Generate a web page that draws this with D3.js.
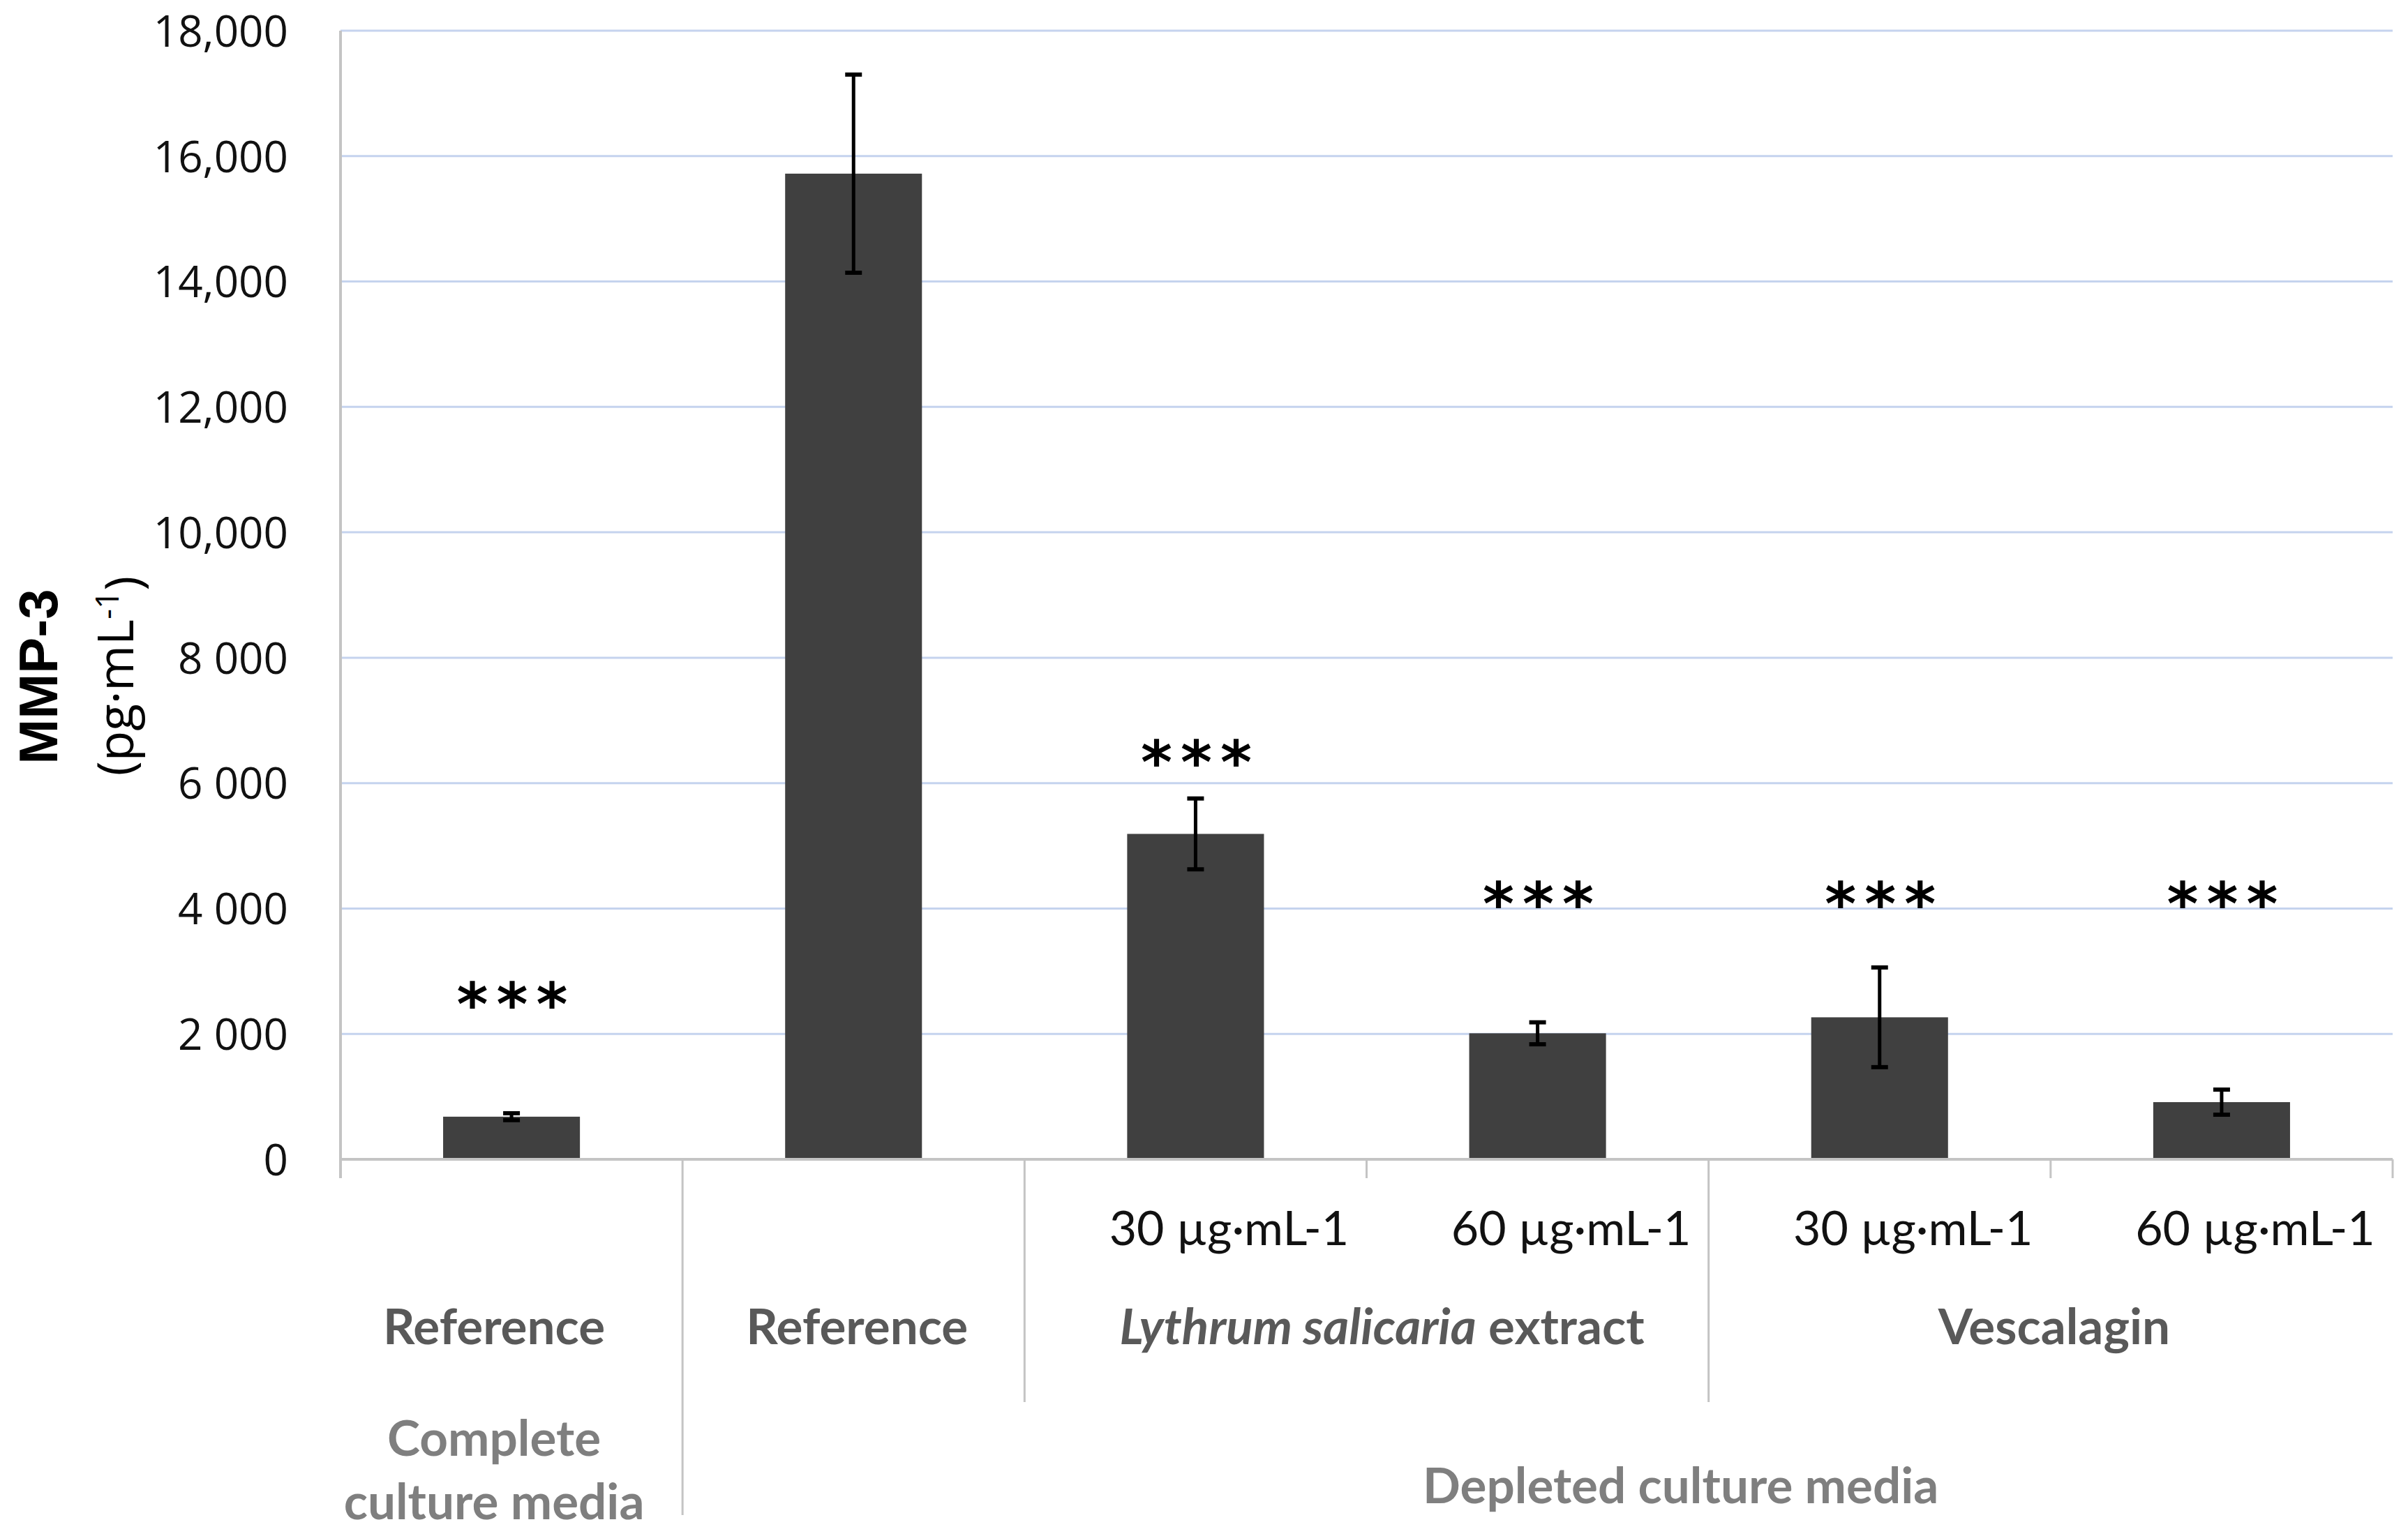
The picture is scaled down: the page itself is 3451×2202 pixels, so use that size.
<!DOCTYPE html>
<meta charset="utf-8">
<style>
  body { margin: 0; background: #fff; }
</style>
<script src="https://d3js.org/d3.v7.min.js"></script>
<div id="viz"></div>
<script>

// ---- data ----
var meanValues  = [680, 15720, 5190, 2010, 2265, 912];
var errorValues = [55, 1580, 565, 175, 795, 200];
// level at which the "***" marks sit (null = no mark)
var starLevels  = [2650, null, 6510, 4250, 4250, 4250];

var doseLabels = ["", "", "30 µg·mL-1", "60 µg·mL-1", "30 µg·mL-1", "60 µg·mL-1"];
var treatmentGroups = [
  {label: "Reference", from: 0, to: 0},
  {label: "Reference", from: 1, to: 1},
  {label: "Lythrum salicaria extract", from: 2, to: 3},
  {label: "Vescalagin", from: 4, to: 5}
];
var mediaGroups = [
  {label: ["Complete", "culture media"], from: 0, to: 0},
  {label: ["Depleted culture media"], from: 1, to: 5}
];

var yTickValues = [0, 2000, 4000, 6000, 8000, 10000, 12000, 14000, 16000, 18000];
var yTickLabels = ["0", "2 000", "4 000", "6 000", "8 000", "10,000", "12,000", "14,000", "16,000", "18,000"];

// ---- layout ----
var W = 3451, H = 2202;
var margin = {top: 44, right: 22, bottom: 540, left: 488};

var svg = d3.select("#viz")
  .append("svg")
    .attr("width", W)
    .attr("height", H);

var x = d3.scaleBand()
  .domain(d3.range(meanValues.length))
  .range([margin.left, W - margin.right])
  .padding(0);

var y = d3.scaleLinear()
  .domain([0, 18000])
  .range([H - margin.bottom, margin.top]);

var bw = x.bandwidth();
var barW = bw * 0.4;
var y0 = y(0);

// gridlines
svg.append("g")
  .selectAll("line")
  .data(yTickValues.filter(function (d) { return d > 0; }))
  .enter()
  .append("line")
    .attr("x1", margin.left)
    .attr("x2", W - margin.right)
    .attr("y1", function (d) { return y(d); })
    .attr("y2", function (d) { return y(d); })
    .attr("stroke", "#c5d3ee")
    .attr("stroke-width", 3);

// y axis
var yAxis = svg.append("g")
  .attr("transform", "translate(" + margin.left + ",0)")
  .call(d3.axisLeft(y)
    .tickValues(yTickValues)
    .tickFormat(function (d, i) { return yTickLabels[i]; })
    .tickSize(0)
    .tickPadding(75));
yAxis.select(".domain").remove();
yAxis.selectAll("text")
  .attr("dy", "0.36em")
  .style("font-family", "'Open Sans', sans-serif")
  .style("font-size", "62px")
  .attr("fill", "#111");

svg.append("line")
  .attr("x1", margin.left).attr("x2", margin.left)
  .attr("y1", y(18000)).attr("y2", y0 + 27)
  .attr("stroke", "#c4c4c4")
  .attr("stroke-width", 4);

// y title
svg.append("g")
  .attr("transform", "translate(55,970) rotate(-90)")
  .append("text")
  .attr("text-anchor", "middle")
  .attr("dy", "0.35em")
  .style("font-family", "'Liberation Sans', Arial, sans-serif")
  .style("font-weight", "bold")
  .style("font-size", "78px")
  .text("MMP-3");
var units = svg.append("g")
  .attr("transform", "translate(166,969) rotate(-90)")
  .append("text")
  .attr("text-anchor", "middle")
  .attr("dy", "0.35em")
  .style("font-family", "'Open Sans', sans-serif")
  .style("font-size", "71px");
units.append("tspan").text("(pg·mL");
units.append("tspan").attr("dy", "-0.45em").style("font-size", "46px").text("-1");
units.append("tspan").attr("dy", "0.45em").text(")");

// bars
svg.append("g")
  .selectAll("rect")
  .data(meanValues)
  .enter()
  .append("rect")
    .attr("x", function (d, i) { return x(i) + (bw - barW) / 2; })
    .attr("y", function (d) { return y(d); })
    .attr("width", barW)
    .attr("height", function (d) { return y0 - y(d); })
    .attr("fill", "#404040");

// error bars
var err = svg.append("g")
  .selectAll("g")
  .data(meanValues)
  .enter()
  .append("g")
  .attr("stroke", "#000");
err.append("line")
  .attr("x1", function (d, i) { return x(i) + bw / 2; })
  .attr("x2", function (d, i) { return x(i) + bw / 2; })
  .attr("y1", function (d, i) { return y(d + errorValues[i]); })
  .attr("y2", function (d, i) { return y(d - errorValues[i]); })
  .attr("stroke-width", 5);
[1, -1].forEach(function (s) {
  err.append("line")
    .attr("x1", function (d, i) { return x(i) + bw / 2 - 12; })
    .attr("x2", function (d, i) { return x(i) + bw / 2 + 12; })
    .attr("y1", function (d, i) { return y(d + s * errorValues[i]); })
    .attr("y2", function (d, i) { return y(d + s * errorValues[i]); })
    .attr("stroke-width", 6);
});

// significance marks
svg.append("g")
  .selectAll("text")
  .data(starLevels.map(function (v, i) { return {v: v, i: i}; }).filter(function (d) { return d.v !== null; }))
  .enter()
  .append("text")
    .attr("x", function (d) { return x(d.i) + bw / 2 + 7; })
    .attr("y", function (d) { return y(d.v); })
    .attr("dy", "0.54em")
    .attr("text-anchor", "middle")
    .style("font-family", "'DejaVu Sans', sans-serif")
    .style("font-weight", "bold")
    .style("font-size", "86px")
    .style("letter-spacing", "12px")
    .text("***");

// x axis baseline
svg.append("line")
  .attr("x1", margin.left).attr("x2", W - margin.right)
  .attr("y1", y0).attr("y2", y0)
  .attr("stroke", "#c4c4c4")
  .attr("stroke-width", 4);

// category separators: depth depends on which grouping level changes
var sepDepth = {short: y0 + 27, mid: 2010, long: 2172};
var boundaries = d3.range(1, meanValues.length + 1).map(function (b) {
  var level = "short";
  if (b < meanValues.length) {
    if (treatmentGroups.some(function (g) { return g.from === b; })) level = "mid";
    if (mediaGroups.some(function (g) { return g.from === b; })) level = "long";
  }
  return {b: b, level: level};
});
svg.append("g")
  .selectAll("line")
  .data(boundaries)
  .enter()
  .append("line")
    .attr("x1", function (d) { return d.b < meanValues.length ? x(d.b) : x(d.b - 1) + bw; })
    .attr("x2", function (d) { return d.b < meanValues.length ? x(d.b) : x(d.b - 1) + bw; })
    .attr("y1", y0)
    .attr("y2", function (d) { return sepDepth[d.level]; })
    .attr("stroke", "#c4c4c4")
    .attr("stroke-width", 3);

function spanCenter(g) { return (x(g.from) + x(g.to) + bw) / 2; }

// level 1: doses
svg.append("g")
  .selectAll("text")
  .data(doseLabels)
  .enter()
  .append("text")
    .attr("x", function (d, i) { return x(i) + bw / 2 + 48; })
    .attr("y", 1785)
    .attr("text-anchor", "middle")
    .style("font-family", "Lato, sans-serif")
    .style("font-size", "68px")
    .attr("fill", "#111")
    .text(function (d) { return d; });

// level 2: treatments
var treat = svg.append("g")
  .selectAll("text")
  .data(treatmentGroups)
  .enter()
  .append("text")
    .attr("x", function (d, i) { return spanCenter(d) + (i === 0 ? -25 : i === 2 ? 22 : 5); })
    .attr("y", 1927)
    .attr("text-anchor", "middle")
    .style("font-family", "Lato, sans-serif")
    .style("font-weight", "bold")
    .style("font-size", "71px")
    .attr("fill", "#595959");
treat.each(function (d) {
  var t = d3.select(this);
  if (d.label.indexOf("Lythrum salicaria") === 0) {
    t.append("tspan").style("font-style", "italic").text("Lythrum salicaria");
    t.append("tspan").text(d.label.replace("Lythrum salicaria", ""));
  } else {
    t.text(d.label);
  }
});

// level 3: media
svg.append("g")
  .selectAll("text")
  .data(mediaGroups)
  .enter()
  .append("text")
    .attr("x", function (d, i) { return i === 0 ? spanCenter(d) - 25 : (x(2) + x(5) + bw) / 2 - 40; })
    .attr("y", function (d, i) { return i === 0 ? 2087 : 2155; })
    .attr("text-anchor", "middle")
    .style("font-family", "Lato, sans-serif")
    .style("font-weight", "bold")
    .style("font-size", "71px")
    .attr("fill", "#7f7f7f")
  .selectAll("tspan")
  .data(function (d) { return d.label; })
  .enter()
  .append("tspan")
    .attr("x", function () { return d3.select(this.parentNode).attr("x"); })
    .attr("dy", function (d, i) { return i === 0 ? 0 : 91; })
    .text(function (d) { return d; });

</script>
